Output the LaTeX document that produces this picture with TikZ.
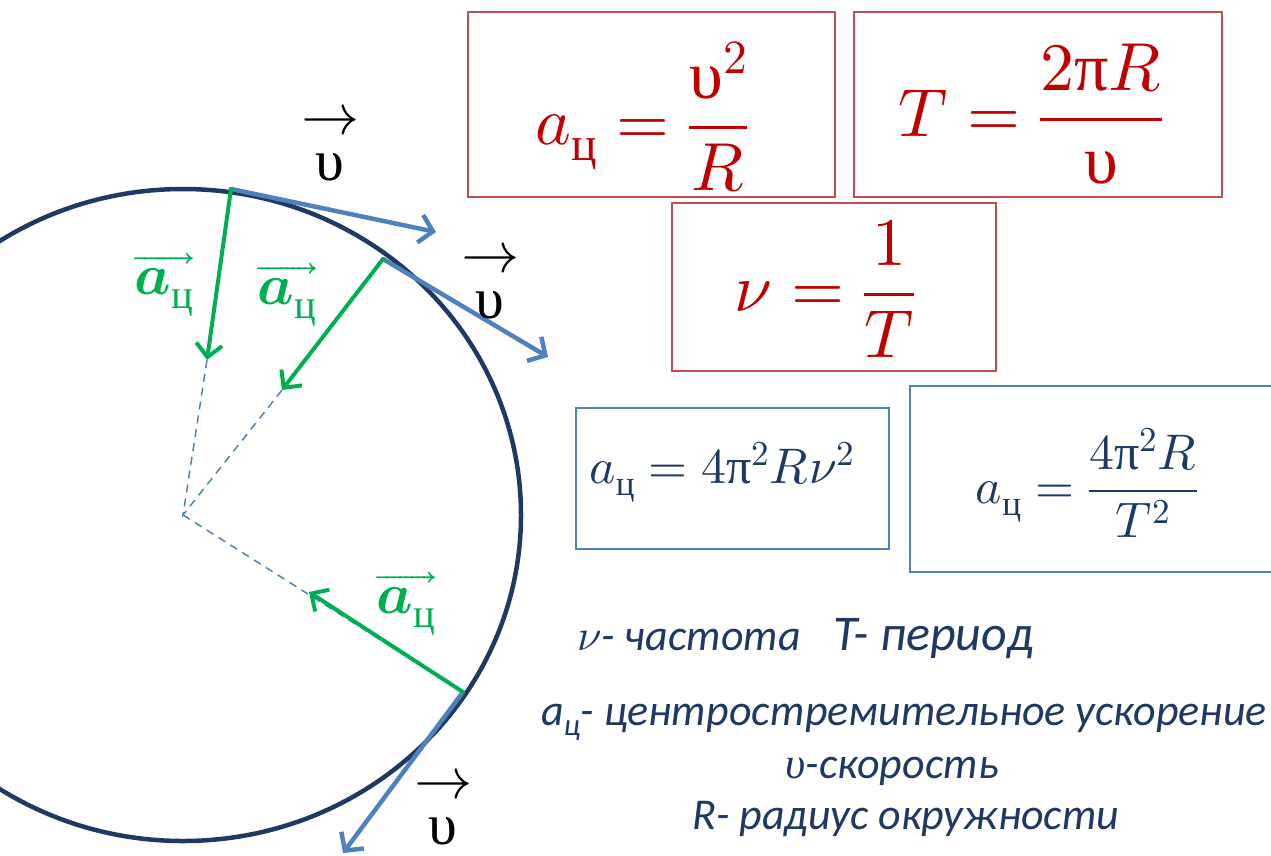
\documentclass[tikz,border=0pt]{standalone}
\usepackage{amsmath}
\usepackage{unicode-math}
\newfontfamily\cyrserif{Liberation Serif}
\newfontfamily\notefont{Carlito}
\usetikzlibrary{arrows.meta}
\definecolor{orbitnavy}{HTML}{1F3864}
\definecolor{velblue}{HTML}{4F81BD}
\definecolor{accgreen}{HTML}{00B050}
\definecolor{formred}{HTML}{C00000}
\definecolor{boxred}{HTML}{C0504D}
\definecolor{textnavy}{HTML}{1F3864}
\newcommand{\cyrc}{\text{\cyrserif ц}}
\newcommand{\upv}{\text{\cyrserif υ}}
\newcommand{\uppie}{\text{\cyrserif π}}

\begin{document}
\begin{tikzpicture}[x=1pt,y=-1pt,
	formbox/.style={draw=#1,line width=1.5pt,inner sep=0pt},
	formula/.style={inner sep=0pt,text=#1},
	orbit/.style={draw=orbitnavy,line width=4.5pt},
	velarrow/.style={draw=velblue,line width=4.5pt,line cap=round,-{Straight Barb[length=13pt,width=28pt]}},
	accarrow/.style={draw=accgreen,line width=4pt,line cap=round,-{Straight Barb[length=13pt,width=26pt]}},
	radline/.style={draw=velblue,line width=1.5pt,dash pattern=on 8pt off 6pt},
	vellabel/.style={align=center,inner sep=0pt,font=\fontsize{58}{46}\selectfont},
	acclabel/.style={inner sep=0pt,text=accgreen,font=\fontsize{58}{60}\selectfont},
	note/.style={inner sep=0pt,text=textnavy,font=\notefont\itshape\fontsize{44}{48}\selectfont}]
	\path[use as bounding box,clip] (0,0) rectangle (1271,855);
	\node[formbox=boxred,minimum width=367pt,minimum height=185pt] (acbox) at (651.5,104.5) {};
	\node[formbox=boxred,minimum width=368pt,minimum height=185pt] (tbox) at (1038,104.5) {};
	\node[formbox=boxred,minimum width=324pt,minimum height=168pt] (nubox) at (834,287) {};
	\node[formbox=velblue,minimum width=313pt,minimum height=141pt] (acnubox) at (732.5,478.5) {};
	\node[formbox=velblue,minimum width=370pt,minimum height=186pt] (actbox) at (1095,479) {};
	\node[formula=formred,font=\fontsize{68}{72}\selectfont] (acform) at (642,117) {$a_{\cyrc}=\dfrac{\upv^{2}}{R}$};
	\node[formula=formred,font=\fontsize{68}{72}\selectfont] (tform) at (1031,114) {$T=\dfrac{2\uppie R}{\upv}$};
	\node[formula=formred,font=\fontsize{68}{72}\selectfont] (nuform) at (825,289) {$\nu=\dfrac{1}{T}$};
	\node[formula=textnavy,font=\fontsize{50}{54}\selectfont] (acnuform) at (722,472) {$a_{\cyrc}=4\uppie^{2}R\nu^{2}$};
	\node[formula=textnavy,font=\fontsize{50}{54}\selectfont] (actform) at (1087,483) {$a_{\cyrc}=\dfrac{4\uppie^{2}R}{T^{2}}$};
	\coordinate (O) at (183,515);
	\coordinate (P1) at (231,189);
	\coordinate (P2) at (383,259);
	\coordinate (P3) at (463,692);
	\coordinate (V1) at (436,232);
	\coordinate (V2) at (548,357);
	\coordinate (V3) at (343,853);
	\coordinate (A1) at (207,360);
	\coordinate (A2) at (282,390);
	\coordinate (A3) at (309,592);
	\draw[orbit] (O) ellipse [x radius=338pt,y radius=326pt];
	\draw[radline] (A1) -- (O) -- (A2);
	\draw[radline] (O) -- (P3);
	\draw[velarrow] (P1) -- (V1);
	\draw[velarrow] (P2) -- (V2);
	\draw[velarrow] (P3) -- (V3);
	\draw[accarrow] (P1) -- (A1);
	\draw[accarrow] (P2) -- (A2);
	\draw[accarrow] (P3) -- (A3);
	\node[vellabel] (v1) at (330,143) {$\rightarrow$\\\upv};
	\node[vellabel] (v2) at (490,281) {$\rightarrow$\\\upv};
	\node[vellabel] (v3) at (443,807) {$\rightarrow$\\\upv};
	\node[acclabel] (a1) at (164,285) {$\overrightarrow{\symbfit{a}_{\cyrc}}$};
	\node[acclabel] (a2) at (287,295) {$\overrightarrow{\symbfit{a}_{\cyrc}}$};
	\node[acclabel] (a3) at (406,604) {$\overrightarrow{\symbfit{a}_{\cyrc}}$};
	\node[note,anchor=base west] (freq) at (577,650) {$\nu$- частота};
	\node[note,anchor=base west,font=\notefont\itshape\fontsize{50}{54}\selectfont] (period) at (833,650) {T- период};
	\node[note,anchor=base] (accdef) at (904,725) {a\textsubscript{ц}- центростремительное ускорение};
	\node[note,anchor=base] (veldef) at (892,778) {{\cyrserif υ}-скорость};
	\node[note,anchor=base] (raddef) at (906,829) {R- радиус окружности};
\end{tikzpicture}
\end{document}
